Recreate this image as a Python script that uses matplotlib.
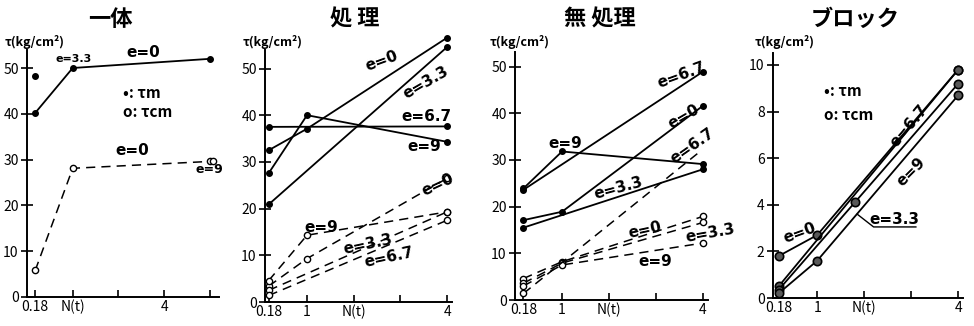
import matplotlib
matplotlib.use("Agg")
import matplotlib.pyplot as plt

plt.rcParams['font.family'] = ['Noto Sans CJK JP', 'DejaVu Sans']

W, H = 974, 326

titles = ["一体", "処 理", "無 処理", "ブロック"]
ylabel = "τ(kg/cm²)"

# panel 1 : 一体
p1_x = [0.18, 1, 4]
p1_tm_e0 = [40.2, 50.0, 52.0]
p1_tm_e33_x = [0.18]
p1_tm_e33 = [48.3]
p1_tcm_e0 = [5.8, 28.1, 29.6]
p1_tcm_e9_x = [4.08]
p1_tcm_e9 = [29.6]

# panel 2 : 処理
p2_x = [0.18, 1, 4]
p2_x2 = [0.18, 4]
p2_tm_e0 = [32.5, 37.1, 56.6]
p2_tm_e33 = [20.9, 54.6]
p2_tm_e67 = [37.5, 37.6]
p2_tm_e9 = [27.6, 40.0, 34.3]
p2_tcm_e0 = [3.4, 9.3, 26.5]
p2_tcm_e33 = [2.5, 19.3]
p2_tcm_e67 = [1.4, 17.5]
p2_tcm_e9 = [4.6, 14.3, 19.3]

# panel 3 : 無処理
p3_x = [0.18, 1, 4]
p3_x2 = [0.18, 4]
p3_tm_e67 = [23.6, 48.9]
p3_tm_e9 = [23.9, 31.8, 29.1]
p3_tm_e0 = [17.1, 18.9, 41.6]
p3_tm_e33 = [15.5, 28.0]
p3_tcm_e0 = [4.6, 8.2, 17.9]
p3_tcm_e33 = [3.6, 7.9, 16.6]
p3_tcm_e9 = [3.0, 7.5, 12.2]
p3_tcm_e67_x = [0.18, 3.9]
p3_tcm_e67 = [1.4, 31.5]

# panel 4 : ブロック
p4_x = [0.18, 1, 4]
p4_e0 = [1.8, 2.7, 9.8]
p4_e67_x = [0.18, 4]
p4_e67 = [0.5, 9.8]
p4_e33_x = [0.18, 1.8, 4]
p4_e33 = [0.35, 4.1, 9.2]
p4_e9 = [0.2, 1.6, 8.7]

fig = plt.figure(figsize=(W / 100, H / 100), dpi=100)


def make_ax(x0, y0, xunit, yunit, xlim, ylim):
    # x0, y0 : pixel of the axes origin, units in px per data unit
    w = (xlim[1] - xlim[0]) * xunit
    h = (ylim[1] - ylim[0]) * yunit
    ax = fig.add_axes([x0 / W, (H - y0) / H, w / W, h / H])
    ax.set_xlim(*xlim)
    ax.set_ylim(*ylim)
    for s in ['top', 'right']:
        ax.spines[s].set_visible(False)
    for s in ['left', 'bottom']:
        ax.spines[s].set_linewidth(1.4)
    ax.tick_params(direction='in', length=5, width=1.2, labelsize=10, pad=2)
    ax.tick_params(axis='y', direction='inout', length=8)
    return ax


solid = dict(color='black', lw=1.3, marker='o', ms=4, mfc='black', mec='black', clip_on=False)
dash = dict(color='black', lw=1.1, ls=(0, (6, 4)), marker='o', ms=4.5, mfc='white', mec='black', mew=1,
            clip_on=False)
lab = dict(fontsize=11, family='DejaVu Sans', fontweight='bold')

# ---------------- panel 1
ax1 = make_ax(27, 297, 45.7, 4.58, (0, 4.2), (0, 54))
ax1.plot(p1_x, p1_tm_e0, **solid)
ax1.plot(p1_tm_e33_x, p1_tm_e33, **solid)
ax1.plot(p1_x, p1_tcm_e0, **dash)
ax1.plot(p1_tcm_e9_x, p1_tcm_e9, **dash)
ax1.set_yticks([0, 10, 20, 30, 40, 50])
ax1.set_xticks([0.18, 1, 2, 3, 4])
ax1.set_xticklabels(['0.18', 'N(t)', '', '4', ''])
ax1.text(0.62, 51.3, "e=3.3", fontsize=8, family='DejaVu Sans', fontweight='bold')
ax1.text(2.55, 52.5, "e=0", ha='center', **lab)
ax1.text(2.1, 44.5, "•: τm", va='center', fontsize=11, fontweight='bold')
ax1.text(2.1, 40.5, "o: τcm", va='center', fontsize=11, fontweight='bold')
ax1.text(2.3, 31, "e=0", ha='center', **lab)
ax1.text(4.0, 27, "e=9", ha='center', fontsize=9, family='DejaVu Sans', fontweight='bold')

# ---------------- panel 2
ax2 = make_ax(265, 302, 46.7, 4.67, (0.1, 4.1), (0, 54))
ax2.plot(p2_x, p2_tm_e0, **solid)
ax2.plot(p2_x2, p2_tm_e33, **solid)
ax2.plot(p2_x2, p2_tm_e67, **solid)
ax2.plot(p2_x, p2_tm_e9, **solid)
ax2.plot(p2_x, p2_tcm_e0, **dash)
ax2.plot(p2_x2, p2_tcm_e33, **dash)
ax2.plot(p2_x2, p2_tcm_e67, **dash)
ax2.plot(p2_x, p2_tcm_e9, **dash)
ax2.set_yticks([0, 10, 20, 30, 40, 50])
ax2.set_xticks([0.18, 1, 2, 3, 4])
ax2.set_xticklabels(['0.18', '1', 'N(t)', '', '4'])
ax2.text(2.6, 51.5, "e=0", ha='center', va='center', rotation=20, **lab)
ax2.text(3.55, 47, "e=3.3", ha='center', va='center', rotation=30, **lab)
ax2.text(3.55, 39.8, "e=6.7", ha='center', va='center', **lab)
ax2.text(3.5, 33.2, "e=9", ha='center', va='center', **lab)
ax2.text(3.8, 25, "e=0", ha='center', va='center', rotation=25, **lab)
ax2.text(1.3, 16, "e=9", ha='center', va='center', **lab)
ax2.text(2.3, 12.3, "e=3.3", ha='center', va='center', rotation=12, **lab)
ax2.text(2.75, 9.6, "e=6.7", ha='center', va='center', rotation=12, **lab)

# ---------------- panel 3
ax3 = make_ax(515, 300, 47, 4.67, (0.0, 4.1), (0, 53))
ax3.plot(p3_x2, p3_tm_e67, **solid)
ax3.plot(p3_x, p3_tm_e9, **solid)
ax3.plot(p3_x, p3_tm_e0, **solid)
ax3.plot(p3_x2, p3_tm_e33, **solid)
ax3.plot(p3_x, p3_tcm_e0, **dash)
ax3.plot(p3_x, p3_tcm_e33, **dash)
ax3.plot(p3_x, p3_tcm_e9, **dash)
ax3.plot(p3_tcm_e67_x, p3_tcm_e67, markevery=[0], **dash)
ax3.set_yticks([0, 10, 20, 30, 40, 50])
ax3.set_xticks([0.18, 1, 2, 3, 4])
ax3.set_xticklabels(['0.18', '1', 'N(t)', '', '4'])
ax3.text(3.55, 48.2, "e=6.7", ha='center', va='center', rotation=20, **lab)
ax3.text(3.6, 39.3, "e=0", ha='center', va='center', rotation=30, **lab)
ax3.text(3.78, 33, "e=6.7", ha='center', va='center', rotation=35, **lab)
ax3.text(1.06, 33.6, "e=9", ha='center', va='center', **lab)
ax3.text(2.2, 23.9, "e=3.3", ha='center', va='center', rotation=15, **lab)
ax3.text(2.77, 15, "e=0", ha='center', va='center', rotation=12, **lab)
ax3.text(4.15, 14.3, "e=3.3", ha='center', va='center', rotation=10, **lab)
ax3.text(2.98, 8.2, "e=9", ha='center', va='center', **lab)

# ---------------- panel 4
ring = dict(color='black', lw=1.3, marker='o', ms=6, mfc='0.35', mec='black', mew=1.2, clip_on=False)
ax4 = make_ax(773, 298, 47, 23.3, (0.06, 4.1), (0, 10.5))
ax4.plot(p4_x, p4_e0, **ring)
ax4.plot(p4_e67_x, p4_e67, **ring)
ax4.plot(p4_e33_x, p4_e33, **ring)
ax4.plot(p4_x, p4_e9, **ring)
ax4.set_yticks([0, 2, 4, 6, 8, 10])
ax4.set_xticks([0.18, 1, 2, 3, 4])
ax4.set_xticklabels(['0.18', '1', 'N(t)', '', '4'])
ax4.text(1.15, 8.9, "•: τm", va='center', fontsize=11, fontweight='bold')
ax4.text(1.15, 7.85, "o: τcm", va='center', fontsize=11, fontweight='bold')
ax4.text(2.95, 7.4, "e=6.7", ha='center', va='center', rotation=50, **lab)
ax4.text(3.0, 5.4, "e=9", ha='center', va='center', rotation=45, **lab)
ax4.text(0.62, 2.8, "e=0", ha='center', va='center', rotation=20, **lab)
ax4.plot([1.85, 2.2, 3.1], [3.6, 3.05, 3.05], color='black', lw=1)
ax4.text(2.65, 3.35, "e=3.3", ha='center', va='center', **lab)

# titles and y labels
for t, tx in zip(titles, [110, 355, 600, 855]):
    fig.text(tx / W, (H - 19) / H, t, ha='center', va='center', fontsize=16, fontweight='bold')
for ylx in [5, 243, 490, 755]:
    fig.text(ylx / W, (H - 42) / H, ylabel, ha='left', va='center', fontsize=9, fontweight='bold')

fig.savefig("out.png", dpi=100)
